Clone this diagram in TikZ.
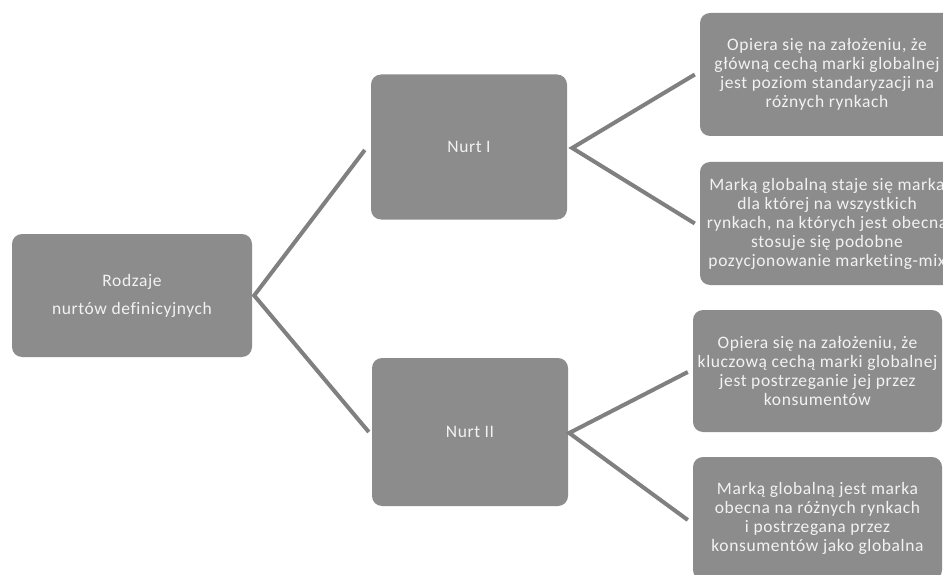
\documentclass[tikz,border=0pt]{standalone}
\usepackage{fontspec}
\setmainfont{Carlito}[LetterSpace=3.5,Ligatures=NoCommon]
\usetikzlibrary{calc}
\definecolor{boxgray}{HTML}{8C8C8C}
\definecolor{linegray}{HTML}{808080}
\definecolor{txtcol}{HTML}{F2F2F2}
\begin{document}
\begin{tikzpicture}[x=1pt,y=-1pt,
  box/.style={fill=boxgray, rounded corners=10pt, text=txtcol, align=center,
    font=\fontsize{17.5}{19}\selectfont, inner sep=0pt},
  conn/.style={draw=linegray, line width=4pt, line join=miter}]
\clip (0,0) rectangle (943,575);
\fill[white] (0,0) rectangle (943,575);
% root
\node[box, minimum width=240pt, minimum height=123pt] (root) at (132,295.5)
  {Rodzaje\\[9pt]nurtów definicyjnych};
% level 1
\node[box, minimum width=196pt, minimum height=145pt] (n1) at (469,147) {Nurt I};
\node[box, minimum width=196pt, minimum height=148pt] (n2) at (470,432) {Nurt II};
% leaves
\node[box, minimum width=254pt, minimum height=123pt] (l1) at (827,74.5)
  {Opiera się na założeniu, że\\główną cechą marki globalnej\\jest poziom standaryzacji na\\różnych rynkach};
\node[box, minimum width=254pt, minimum height=123pt] (l2) at (827,223.5)
  {Marką globalną staje się marka\\dla której na wszystkich\\rynkach, na których jest obecna\\stosuje się podobne\\pozycjonowanie marketing-mix};
\node[box, minimum width=249pt, minimum height=122pt] (l3) at (817.5,371)
  {Opiera się na założeniu, że\\kluczową cechą marki globalnej\\jest postrzeganie jej przez\\konsumentów};
\node[box, minimum width=249pt, minimum height=123pt] (l4) at (817.5,518.5)
  {Marką globalną jest marka\\obecna na różnych rynkach\\i postrzegana przez\\konsumentów jako globalna};
% connectors
\draw[conn] ($(n1.west)+(-6,3)$) -- ($(root.east)+(2,0)$) -- ($(n2.west)+(-3,0)$);
\draw[conn] ($(l1.west)+(-5,0)$) -- ($(n1.east)+(5,1)$) -- ($(l2.west)+(-5,0)$);
\draw[conn] ($(l3.west)+(-5,1)$) -- ($(n2.east)+(1,1)$) -- ($(l4.west)+(-5,1.5)$);
\end{tikzpicture}
\end{document}
